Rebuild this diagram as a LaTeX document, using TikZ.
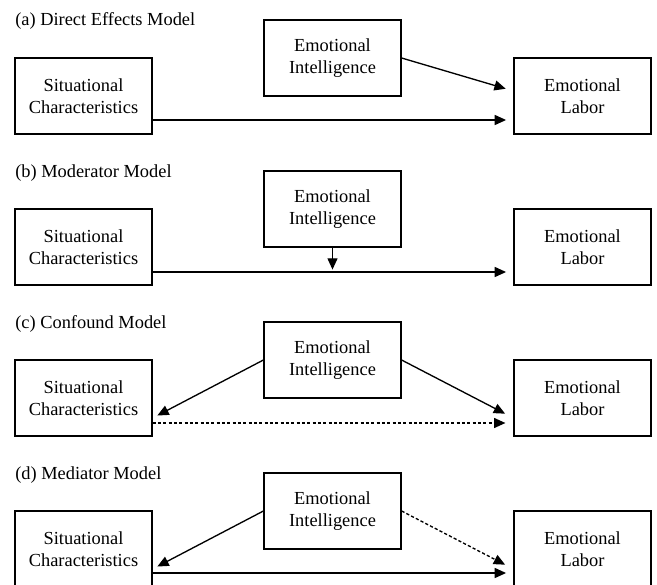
\documentclass[tikz,border=0pt]{standalone}
\usepackage{fontspec}
\setmainfont{Liberation Serif}
\usetikzlibrary{arrows.meta,calc}
\tikzstyle{box}=[rectangle, draw, line width=0.9pt, minimum width=102.75pt, minimum height=57pt, inner sep=0pt, align=center, font=\fontsize{13.8}{16.5}\selectfont]
\tikzstyle{link}=[line width=1pt, -{Triangle[length=8.5pt,width=7.5pt]}]
\tikzstyle{dotlink}=[link, dash pattern=on 2.4pt off 1.6pt]
\newcommand{\block}{\node[box]}

\begin{document}
\begin{tikzpicture}[x=0.75pt,y=-0.75pt]
\useasboundingbox (0,0) rectangle (657,585);
\clip (0,0) rectangle (657,585);
\foreach \i/\y/\t in {a/0/Direct Effects Model, b/151/Moderator Model, c/302/Confound Model, d/453/Mediator Model}{
	\node[anchor=base west, inner sep=0pt, font=\fontsize{13.8}{16.5}\selectfont] (title\i) at (15,\y+26) {(\i) \t};
	\block (s\i) at (83.5,\y+96) {Situational\\Characteristics};
	\block (ei\i) at (332.5,\y+58) {Emotional\\Intelligence};
	\block (el\i) at (582.5,\y+96) {Emotional\\Labor};
	}
%%(a) direct effects
\draw[link, shorten >=6pt] (eia.east) -- ($(ela.west)+(0,-5)$);
\draw[link, shorten >=5.5pt] ($(sa.east)+(0,24)$) -- ($(ela.west)+(0,24)$);
%%(b) moderator
\draw[link, shorten >=5.5pt] ($(sb.east)+(0,25)$) -- ($(elb.west)+(0,25)$);
\draw[link] (eib.south) -- ++(0,22);
%%(c) confound
\draw[link, shorten >=4pt] (eic.west) -- ($(sc.east)+(0,20)$);
\draw[link, shorten >=7pt] (eic.east) -- ($(elc.west)+(0,20)$);
\draw[dotlink, shorten >=6pt] ($(sc.east)+(0,25)$) -- ($(elc.west)+(0,25)$);
%%(d) mediator
\draw[link, shorten >=4pt] (eid.west) -- ($(sd.east)+(0,20)$);
\draw[dotlink, shorten >=7pt] (eid.east) -- ($(eld.west)+(0,20)$);
\draw[link, shorten >=5.5pt] ($(sd.east)+(0,24)$) -- ($(eld.west)+(0,24)$);
\end{tikzpicture}
\end{document}
